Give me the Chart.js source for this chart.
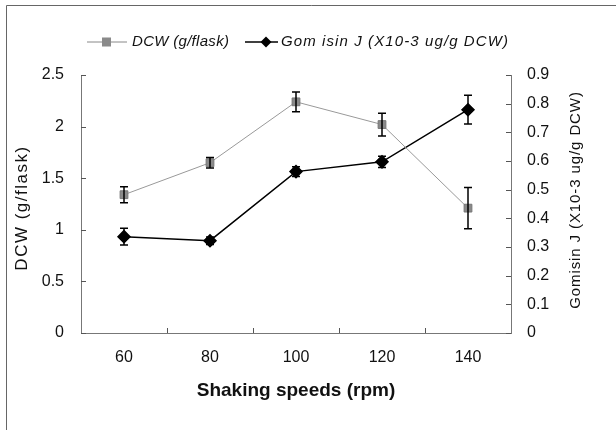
<!DOCTYPE html>
<html><head><meta charset="utf-8">
<script src="https://cdn.jsdelivr.net/npm/chart.js@4/dist/chart.umd.min.js"></script>
<style>html,body{margin:0;padding:0;background:#fff}#wrap{width:616px;height:430px;position:relative}</style>
</head><body><div id="wrap"><canvas id="c" width="616" height="430"></canvas></div>
<script>
const categories = ['60', '80', '100', '120', '140'];
const dcw = [1.34, 1.65, 2.24, 2.02, 1.21];
const dcwErr = [0.078, 0.05, 0.095, 0.11, 0.2];
const gomisin = [0.336, 0.322, 0.563, 0.597, 0.779];
const gomisinErr = [0.029, 0.013, 0.017, 0.02, 0.05];
const legendLabels = ['DCW (g/flask)', 'Gom isin J (X10-3 ug/g DCW)'];
const axisTitles = { x: 'Shaking speeds (rpm)', yL: 'DCW (g/flask)', yR: 'Gomisin J (X10-3 ug/g DCW)' };

const FONT = '"Liberation Sans", Arial, sans-serif';
const fmt = v => String(Number(v.toFixed(1)));

const errorBars = {
  id: 'errorBars',
  afterDatasetsDraw(chart) {
    const ctx = chart.ctx;
    const sets = [[0, dcw, dcwErr, 'yL'], [1, gomisin, gomisinErr, 'yR']];
    ctx.save();
    ctx.strokeStyle = '#000';
    ctx.lineWidth = 1.5;
    sets.forEach(([di, vals, errs, sid]) => {
      const meta = chart.getDatasetMeta(di);
      const ys = chart.scales[sid];
      meta.data.forEach((pt, i) => {
        const x = pt.x;
        const y1 = ys.getPixelForValue(vals[i] + errs[i]);
        const y2 = ys.getPixelForValue(vals[i] - errs[i]);
        ctx.beginPath();
        ctx.moveTo(x, y1); ctx.lineTo(x, y2);
        ctx.moveTo(x - 4, y1); ctx.lineTo(x + 4, y1);
        ctx.moveTo(x - 4, y2); ctx.lineTo(x + 4, y2);
        ctx.stroke();
      });
    });
    ctx.restore();
  }
};

const frame = {
  id: 'frame',
  afterDraw(chart) {
    const ctx = chart.ctx;
    const a = chart.chartArea;
    ctx.save();
    ctx.strokeStyle = '#666';
    ctx.lineWidth = 1;
    ctx.beginPath();
    ctx.moveTo(6.5, 430); ctx.lineTo(6.5, 5.5); ctx.lineTo(616, 5.5);
    ctx.stroke();
    // inward ticks
    ctx.strokeStyle = '#555';
    ctx.beginPath();
    const yl = chart.scales.yL, yr = chart.scales.yR;
    yl.ticks.forEach((t, i) => { const p = Math.round(yl.getPixelForTick(i)) + 0.5; ctx.moveTo(a.left, p); ctx.lineTo(a.left + 5, p); });
    yr.ticks.forEach((t, i) => { const p = Math.round(yr.getPixelForTick(i)) + 0.5; ctx.moveTo(a.right, p); ctx.lineTo(a.right - 5, p); });
    const w = (a.right - a.left) / categories.length;
    for (let i = 1; i < categories.length; i++) { const p = Math.round(a.left + w * i) + 0.5; ctx.moveTo(p, a.bottom); ctx.lineTo(p, a.bottom - 5); }
    ctx.stroke();
    // y axis titles (both read bottom-to-top)
    ctx.fillStyle = '#111';
    ctx.textAlign = 'center';
    ctx.textBaseline = 'middle';
    const cy = (a.top + a.bottom) / 2;
    ctx.save();
    ctx.translate(22, cy + 4); ctx.rotate(-Math.PI / 2);
    ctx.font = '17px ' + FONT;
    if ('letterSpacing' in ctx) ctx.letterSpacing = '1.5px';
    ctx.fillText(axisTitles.yL, 0, 0);
    ctx.restore();
    ctx.save();
    ctx.translate(576, cy - 4); ctx.rotate(-Math.PI / 2);
    ctx.font = '15px ' + FONT;
    if ('letterSpacing' in ctx) ctx.letterSpacing = '0.9px';
    ctx.fillText(axisTitles.yR, 0, 0);
    ctx.restore();
    // legend
    const ly = 42;
    ctx.lineWidth = 1;
    ctx.strokeStyle = '#888';
    ctx.beginPath(); ctx.moveTo(87, ly); ctx.lineTo(127, ly); ctx.stroke();
    ctx.fillStyle = '#8a8a8a';
    ctx.fillRect(102, ly - 4.5, 9, 9);
    ctx.strokeStyle = '#000';
    ctx.lineWidth = 1.5;
    ctx.beginPath(); ctx.moveTo(245, ly); ctx.lineTo(278, ly); ctx.stroke();
    ctx.fillStyle = '#000';
    ctx.beginPath(); ctx.moveTo(266, ly - 5.5); ctx.lineTo(271.5, ly); ctx.lineTo(266, ly + 5.5); ctx.lineTo(260.5, ly); ctx.closePath(); ctx.fill();
    ctx.fillStyle = '#111';
    ctx.font = 'italic 15px ' + FONT;
    ctx.textBaseline = 'middle';
    ctx.textAlign = 'left';
    if ('letterSpacing' in ctx) ctx.letterSpacing = '0.3px';
    ctx.fillText(legendLabels[0], 132, ly);
    if ('letterSpacing' in ctx) ctx.letterSpacing = '1.1px';
    ctx.fillText(legendLabels[1], 281, ly);
    ctx.restore();
  }
};

new Chart(document.getElementById('c'), {
  type: 'line',
  data: {
    labels: categories,
    datasets: [
      { label: legendLabels[0], data: dcw, yAxisID: 'yL', borderColor: '#999', borderWidth: 1,
        pointStyle: 'rect', pointRadius: 5.5, pointBackgroundColor: '#8a8a8a', pointBorderColor: '#777', pointBorderWidth: 1 },
      { label: legendLabels[1], data: gomisin, yAxisID: 'yR', borderColor: '#000', borderWidth: 1.5,
        pointStyle: 'rectRot', pointRadius: 6, pointBackgroundColor: '#000', pointBorderColor: '#000' }
    ]
  },
  options: {
    responsive: false,
    animation: false,
    layout: { padding: { top: 75, left: 0, right: 0, bottom: 0 } },
    plugins: { legend: { display: false }, tooltip: { enabled: false } },
    scales: {
      x: {
        offset: true,
        grid: { display: false, drawTicks: false },
        border: { display: true, color: '#777', width: 1 },
        ticks: { color: '#111', font: { family: FONT, size: 16 }, padding: 15 },
        title: { display: true, text: axisTitles.x, color: '#111', font: { family: FONT, size: 19, weight: 'bold' }, padding: { top: 0, bottom: 28 } },
        afterFit(s) { s.height = 97; }
      },
      yL: {
        position: 'left', min: 0, max: 2.5,
        grid: { display: false, drawTicks: false },
        border: { display: true, color: '#777', width: 1 },
        ticks: { stepSize: 0.5, color: '#111', font: { family: FONT, size: 16 }, padding: 17, callback: v => fmt(v) },
        afterFit(s) { s.width = 81; }
      },
      yR: {
        position: 'right', min: 0, max: 0.9,
        grid: { display: false, drawTicks: false },
        border: { display: true, color: '#777', width: 1 },
        ticks: { stepSize: 0.1, color: '#111', font: { family: FONT, size: 16 }, padding: 16, callback: v => fmt(v) },
        afterFit(s) { s.width = 105; }
      }
    }
  },
  plugins: [errorBars, frame]
});
</script>
</body></html>
